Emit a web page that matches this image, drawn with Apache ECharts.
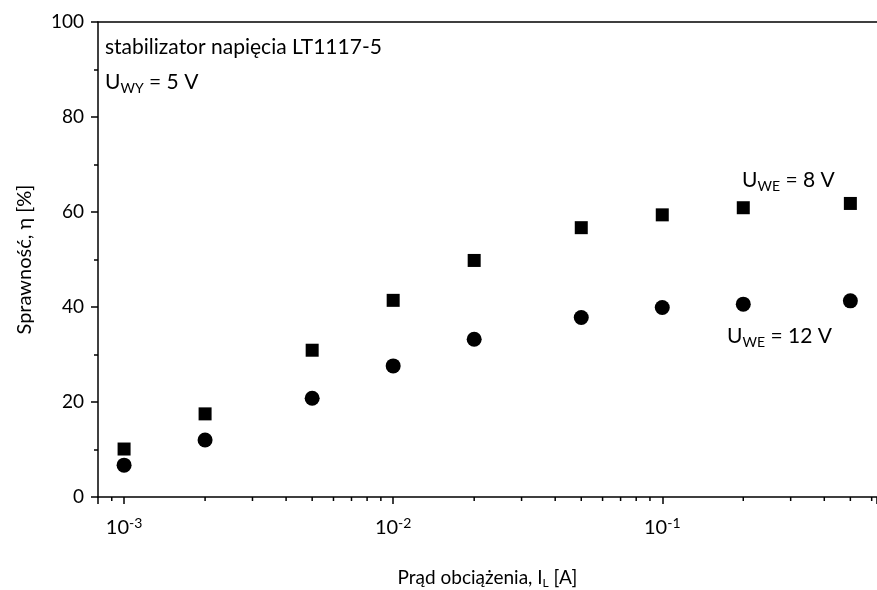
<!DOCTYPE html>
<html>
<head>
<meta charset="utf-8">
<script src="https://cdn.jsdelivr.net/npm/echarts@6/dist/echarts.min.js"></script>
<style>html,body{margin:0;padding:0;background:#fff}#c{width:877px;height:590px}</style>
</head>
<body>
<div id="c"></div>
<script>
// Data
var currents = [0.001, 0.002, 0.005, 0.01, 0.02, 0.05, 0.1, 0.2, 0.5];
var eff8V = [10.1, 17.5, 30.9, 41.4, 49.8, 56.7, 59.4, 60.9, 61.8];
var eff12V = [6.7, 12.0, 20.8, 27.6, 33.2, 37.8, 39.9, 40.6, 41.3];
var xMinorTicks = [0.0009, 0.002, 0.003, 0.004, 0.005, 0.006, 0.007, 0.008, 0.009,
  0.02, 0.03, 0.04, 0.05, 0.06, 0.07, 0.08, 0.09, 0.2, 0.3, 0.4, 0.5, 0.6];
var yTicks = [0, 20, 40, 60, 80, 100];

var FONT = 'Lato';
function zip(xs, ys) { return xs.map(function (x, i) { return [x, ys[i]]; }); }

function annot(text, left, top) {
  return {
    type: 'text', left: left, top: top, z: 100,
    style: {
      text: text, fontFamily: FONT, fontSize: 21, fill: '#000',
      rich: {
        n: { fontFamily: FONT, fontSize: 21, fill: '#000' },
        s: { fontFamily: FONT, fontSize: 14, fill: '#000', padding: [12, 0, 0, 0] }
      }
    }
  };
}

var chart = echarts.init(document.getElementById('c'), null, { renderer: 'canvas' });
var option = {
  backgroundColor: '#fff',
  animation: false,
  textStyle: { fontFamily: FONT, color: '#000' },
  grid: { left: 98, top: 22, right: 0, bottom: 93, containLabel: false, outerBoundsMode: 'none' },
  xAxis: [{
    type: 'log', logBase: 10, min: 0.0008, max: 0.628,
    position: 'bottom',
    name: 'Prąd obciążenia, I{s|L} [A]',
    nameLocation: 'middle', nameGap: 69,
    nameTextStyle: {
      fontFamily: FONT, fontSize: 19, color: '#000',
      rich: { s: { fontFamily: FONT, fontSize: 12, color: '#000', padding: [11, 0, 0, 0] } }
    },
    axisLine: { show: true, lineStyle: { color: '#000', width: 1.5 } },
    axisTick: { show: true, inside: false, length: 7, lineStyle: { color: '#000', width: 1.5 } },
    minorTick: { show: false },
    splitLine: { show: false },
    axisLabel: {
      margin: 19, color: '#000', fontFamily: FONT, fontSize: 20,
      showMinLabel: true, showMaxLabel: true,
      formatter: function (v) {
        var e = Math.log10(v);
        var r = Math.round(e);
        if (Math.abs(e - r) > 1e-6) return '';
        return '{b|10}{p|' + r + '}';
      },
      rich: {
        b: { fontFamily: FONT, fontSize: 20, color: '#000' },
        p: { fontFamily: FONT, fontSize: 14, color: '#000', padding: [0, 0, 10, 0] }
      }
    }
  }, {
    type: 'value', min: 0, max: 1, position: 'top',
    axisLine: { show: true, onZero: false, lineStyle: { color: '#000', width: 1.5 } },
    axisTick: { show: false }, axisLabel: { show: false }, splitLine: { show: false }
  }],
  yAxis: {
    type: 'value', min: 0, max: 100, interval: 20,
    name: 'Sprawność, η [%]',
    nameLocation: 'middle', nameGap: 63,
    nameTextStyle: { fontFamily: FONT, fontSize: 20, color: '#000' },
    axisLine: { show: true, onZero: false, lineStyle: { color: '#000', width: 1.5 } },
    axisTick: { show: true, inside: false, length: 7, lineStyle: { color: '#000', width: 1.5 } },
    minorTick: { show: true, splitNumber: 2, length: 4, lineStyle: { color: '#000', width: 1.5 } },
    splitLine: { show: false },
    axisLabel: {
      margin: 14, color: '#000', fontFamily: FONT, fontSize: 19,
      formatter: function (v) { return yTicks.indexOf(v) >= 0 ? String(v) : ''; }
    }
  },
  graphic: [
    annot('stabilizator napięcia LT1117-5', 105, 37),
    annot('U{s|WY} = 5 V', 105, 72),
    annot('U{s|WE} = 8 V', 742, 170),
    annot('U{s|WE} = 12 V', 727, 326)
  ],
  series: [{
    name: '8 V', type: 'scatter', symbol: 'rect', symbolSize: 13,
    itemStyle: { color: '#000', opacity: 1 }, data: zip(currents, eff8V)
  }, {
    name: '12 V', type: 'scatter', symbol: 'circle', symbolSize: 15,
    itemStyle: { color: '#000', opacity: 1 }, data: zip(currents, eff12V)
  }, {
    name: 'minor', type: 'custom', clip: false, silent: true,
    data: xMinorTicks.map(function (v) { return [v, 0]; }),
    renderItem: function (params, api) {
      var p = api.coord([api.value(0), 0]);
      return {
        type: 'line',
        shape: { x1: p[0], y1: p[1], x2: p[0], y2: p[1] + 4 },
        style: { stroke: '#000', lineWidth: 1.5 }
      };
    }
  }]
};
chart.setOption(option);
</script>
</body>
</html>
